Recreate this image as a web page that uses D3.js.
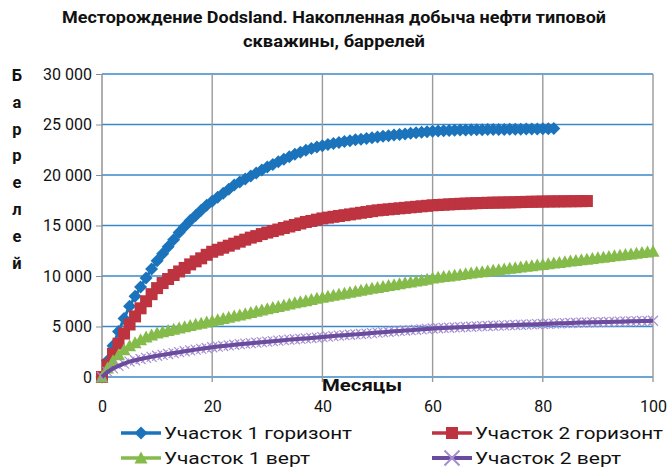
<!DOCTYPE html>
<html><head><meta charset="utf-8">
<script src="https://cdn.jsdelivr.net/npm/d3@7"></script>
<style>
html,body{margin:0;padding:0;background:#fff;}
svg{display:block;font-family:Roboto,"Open Sans",sans-serif;}
</style></head>
<body><svg id="c" width="667" height="467"></svg>
<script>
const title = ["Месторождение Dodsland. Накопленная добыча нефти типовой", "скважины, баррелей"];
const yLabel = "Баррелей";
const xLabel = "Месяцы";
const xTicks = [0, 20, 40, 60, 80, 100];
const yTicks = [0, 5000, 10000, 15000, 20000, 25000, 30000];
const seriesNames = ["Участок 1 горизонт", "Участок 2 горизонт", "Участок 1 верт", "Участок 2 верт"];
const colors = ["#1b74bb", "#bd3340", "#84bb4a", "#6b4b9e"];

// monthly cumulative production, barrels (month index = position)
const s1 = [0,1600,3100,4500,5800,7000,8000,8900,9800,10700,11500,12200,12900,13600,14300,14900,15500,16000,16500,17000,17400,17800,18200,18600,19000,19300,19600,19900,20200,20500,20800,21050,21300,21550,21800,22050,22250,22450,22620,22770,22900,23020,23130,23230,23320,23400,23480,23550,23620,23690,23760,23830,23890,23950,24010,24070,24130,24180,24230,24280,24330,24360,24390,24410,24430,24450,24460,24470,24480,24490,24500,24505,24510,24515,24520,24530,24540,24550,24555,24560,24570,24585,24600];
const s2 = [0,1200,2300,3300,4300,5200,6000,6800,7500,8200,8800,9300,9700,10100,10450,10800,11150,11450,11750,12100,12400,12600,12800,13000,13200,13400,13600,13800,13950,14150,14300,14450,14600,14750,14900,15050,15200,15350,15450,15580,15700,15780,15860,15940,16020,16100,16180,16260,16340,16420,16500,16550,16600,16650,16700,16750,16800,16850,16900,16950,17000,17030,17060,17090,17120,17150,17170,17190,17210,17230,17250,17260,17270,17280,17290,17300,17320,17340,17350,17360,17370,17380,17385,17390,17395,17400,17405,17410,17420];
const s3 = [0,900,1600,2200,2700,3100,3400,3700,3950,4150,4350,4480,4610,4740,4860,4980,5100,5220,5330,5440,5550,5670,5790,5910,6030,6150,6270,6390,6510,6630,6750,6870,6990,7110,7230,7340,7450,7560,7670,7790,7900,8000,8100,8200,8300,8400,8500,8600,8690,8780,8870,8960,9050,9140,9230,9320,9410,9500,9590,9690,9800,9870,9940,10010,10080,10150,10220,10290,10360,10430,10500,10565,10630,10695,10760,10825,10890,10955,11020,11085,11150,11215,11280,11345,11410,11475,11540,11605,11670,11735,11800,11865,11930,11995,12060,12125,12190,12255,12320,12385,12450];
const s4 = [0,500,850,1100,1330,1520,1660,1780,1890,2000,2100,2190,2280,2370,2460,2550,2630,2710,2790,2870,2950,3010,3070,3130,3190,3250,3300,3350,3400,3450,3500,3550,3600,3650,3700,3740,3780,3820,3860,3900,3950,4000,4050,4100,4140,4180,4220,4260,4300,4350,4400,4440,4480,4520,4560,4600,4640,4680,4720,4760,4800,4830,4860,4880,4910,4930,4960,4980,5010,5030,5050,5070,5090,5110,5130,5150,5170,5190,5210,5230,5250,5270,5290,5310,5330,5350,5370,5390,5400,5410,5420,5435,5450,5465,5480,5495,5510,5525,5540,5555,5570];
const allSeries = [s1, s2, s3, s4];

const svg = d3.select("#c");
const x = d3.scaleLinear().domain([0, 100]).range([102, 653]);
const y = d3.scaleLinear().domain([0, 30000]).range([377, 74]);
const fmt = d3.formatLocale({decimal: ",", thousands: "\u00a0", grouping: [3], currency: ["", ""]}).format(",");

// title
const titleLen = [544, 182];
svg.append("g").selectAll("text").data(title).join("text")
  .attr("x", 334).attr("y", (d, i) => 23 + i * 24)
  .attr("text-anchor", "middle").attr("font-weight", "bold").attr("font-size", 16.5)
  .attr("textLength", (d, i) => titleLen[i]).attr("lengthAdjust", "spacingAndGlyphs")
  .attr("fill", "#111").text(d => d);

// horizontal gridlines (blue)
svg.append("g").selectAll("line").data(yTicks).join("line")
  .attr("x1", x(0)).attr("x2", x(100)).attr("y1", d => y(d)).attr("y2", d => y(d))
  .attr("stroke", "#3b88c9").attr("stroke-width", 1.3);

// vertical gridlines (grey), extending below as ticks
svg.append("g").selectAll("line").data(xTicks.slice(1)).join("line")
  .attr("x1", d => x(d)).attr("x2", d => x(d)).attr("y1", y(30000)).attr("y2", y(0) + 5)
  .attr("stroke", "#9a9a9a").attr("stroke-width", 1.4);

// y axis
const yAxis = svg.append("g").attr("transform", `translate(${x(0)},0)`)
  .call(d3.axisLeft(y).tickValues(yTicks).tickFormat(fmt).tickSize(6).tickPadding(4));
yAxis.select(".domain").attr("stroke", "#8c8c8c").attr("stroke-width", 1.4).attr("d", `M0,${y(30000)}V${y(0) + 5}`);
yAxis.selectAll(".tick line").attr("stroke", "#8c8c8c");
yAxis.selectAll("text").attr("font-size", 16).attr("fill", "#111").attr("font-family", "Roboto, sans-serif");

// x axis labels
const xAxis = svg.append("g").attr("transform", `translate(0,${y(0)})`)
  .call(d3.axisBottom(x).tickValues(xTicks).tickSize(0).tickPadding(24));
xAxis.select(".domain").remove();
xAxis.selectAll("text").attr("font-size", 16).attr("fill", "#111").attr("font-family", "Roboto, sans-serif");

svg.append("text").attr("x", 362).attr("y", 391).attr("text-anchor", "middle")
  .attr("font-weight", "bold").attr("font-size", 16.5).attr("textLength", 80).attr("lengthAdjust", "spacingAndGlyphs")
  .attr("fill", "#111").text(xLabel);

// vertical letter-stacked y label
svg.append("g").selectAll("text").data(Array.from(yLabel)).join("text")
  .attr("x", 17).attr("y", (d, i) => 81 + i * 26.8).attr("text-anchor", "middle")
  .attr("font-weight", "bold").attr("font-size", 16.5).attr("fill", "#111").text(d => d);

// markers (Excel-style shapes)
const markerPath = [
  "M0,-6.5L6.5,0L0,6.5L-6.5,0Z",
  "M-6,-6H6V6H-6Z",
  "M0,-6.5L6.5,5.5H-6.5Z",
  "M-5,-5L5,5M-5,5L5,-5"
];
function drawMarkers(g, i, data) {
  const sel = g.selectAll("path.m").data(data).join("path").attr("class", "m")
    .attr("transform", (d, k) => `translate(${x(k)},${y(d)})`).attr("d", markerPath[i]);
  if (i === 3) sel.attr("fill", "none").attr("stroke", "#a590d0").attr("stroke-width", 1.2);
  else sel.attr("fill", colors[i]).attr("stroke", "none");
}
const line = d3.line().x((d, k) => x(k)).y(d => y(d));
allSeries.forEach((data, i) => {
  const g = svg.append("g");
  if (i === 3) {
    drawMarkers(g, i, data);
    g.append("path").attr("d", line(data)).attr("fill", "none").attr("stroke", colors[i]).attr("stroke-width", 4);
  } else {
    g.append("path").attr("d", line(data)).attr("fill", "none").attr("stroke", colors[i]).attr("stroke-width", 3);
    drawMarkers(g, i, data);
  }
});

// legend
const legPos = [[121, 433], [432, 433], [121, 458], [432, 458]];
const legLen = [188, 188, 146, 146];
seriesNames.forEach((name, i) => {
  const [lx, ly] = legPos[i];
  const g = svg.append("g").attr("transform", `translate(${lx},${ly})`);
  g.append("line").attr("x1", 0).attr("x2", 40).attr("y1", 0).attr("y2", 0)
    .attr("stroke", colors[i]).attr("stroke-width", i === 3 ? 4 : 3.5);
  const m = g.append("path").attr("d", markerPath[i]).attr("transform", "translate(20,0)");
  if (i === 3) m.attr("fill", "none").attr("stroke", "#a590d0").attr("stroke-width", 1.4).attr("transform", "translate(20,0) scale(1.5)");
  else m.attr("fill", colors[i]);
  g.append("text").attr("x", 43).attr("y", 0).attr("dy", "0.35em")
    .attr("font-size", 17).attr("textLength", legLen[i]).attr("lengthAdjust", "spacingAndGlyphs")
    .attr("fill", "#111").text(name);
});
</script></body></html>
